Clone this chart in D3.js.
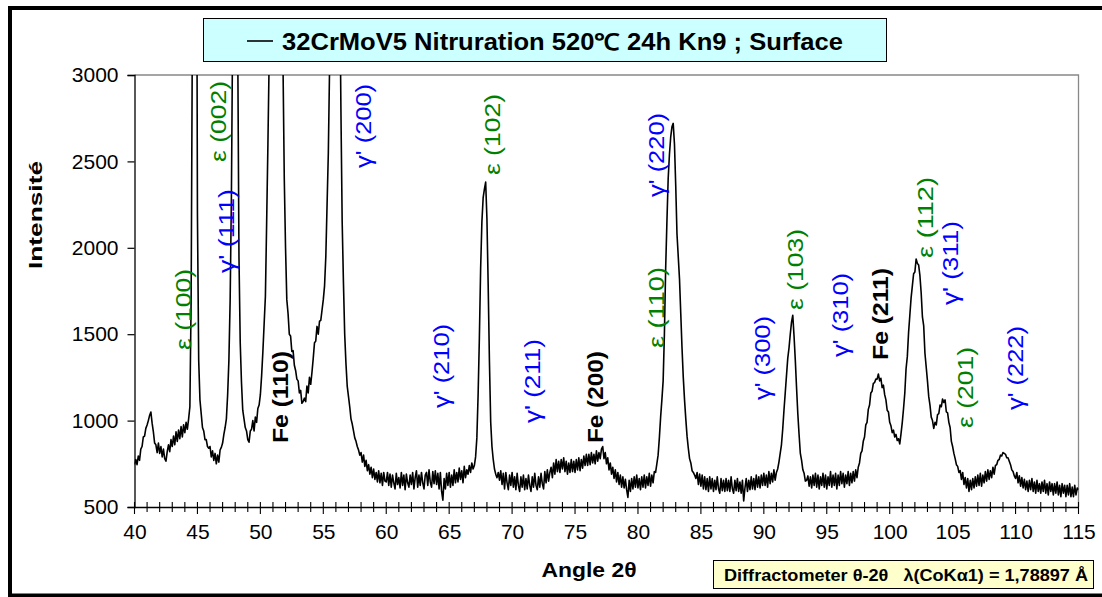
<!DOCTYPE html>
<html>
<head>
<meta charset="utf-8">
<script src="https://cdn.jsdelivr.net/npm/d3@7"></script>
<style>
  html, body { margin: 0; padding: 0; background: #fff; }
  svg { display: block; font-family: "Liberation Sans", Arial, sans-serif; }
</style>
</head>
<body>
<svg id="chart" width="1102" height="597"></svg>
<script>
// ---------------- DATA ----------------
const titleText = "32CrMoV5 Nitruration 520\u2103 24h Kn9 ; Surface";
const xAxisTitle = "Angle 2\u03B8";
const yAxisTitle = "Intensité";
const noteText = "Diffractometer \u03B8-2\u03B8\u00A0\u00A0\u00A0\u03BB(CoK\u03B11) = 1,78897 \u00C5";
const xTicks = [40, 45, 50, 55, 60, 65, 70, 75, 80, 85, 90, 95, 100, 105, 110, 115];
const yTicks = [500, 1000, 1500, 2000, 2500, 3000];
const angleStart = 40;      // first 2θ of the scan
const angleStep = 0.1;      // 2θ step between intensities

// intensity, one row per degree (2θ = row.0 … row.9)
const intensity = [
/*40*/ 745, 775, 745, 795, 770, 835, 850, 905, 910, 955,
/*41*/ 975, 1000, 1030, 1050, 985, 935, 870, 860, 815, 870,
/*42*/ 810, 850, 790, 835, 780, 765, 820, 860, 820, 890,
/*43*/ 850, 910, 860, 935, 880, 945, 895, 965, 905, 975,
/*44*/ 930, 990, 950, 1010, 1080, 1700, 3300, 6000, 7000, 5000,
/*45*/ 2200, 1350, 1120, 1040, 960, 940, 890, 890, 850, 840,
/*46*/ 850, 790, 825, 770, 810, 750, 800, 760, 830, 845,
/*47*/ 870, 920, 960, 1010, 1150, 1350, 1700, 2300, 3300, 5000,
/*48*/ 6000, 5000, 3200, 1950, 1450, 1220, 1060, 1010, 960, 940,
/*49*/ 890, 875, 940, 950, 1000, 940, 1020, 990, 1070, 1090,
/*50*/ 1150, 1260, 1400, 1560, 1720, 2150, 2600, 3100, 3800, 4500,
/*51*/ 5200, 5800, 6000, 5700, 5000, 4300, 3700, 3300, 3050, 2400,
/*52*/ 2000, 1700, 1620, 1500, 1490, 1400, 1405, 1320, 1290, 1240,
/*53*/ 1230, 1160, 1175, 1100, 1110, 1130, 1110, 1200, 1160, 1250,
/*54*/ 1210, 1280, 1360, 1450, 1460, 1545, 1500, 1575, 1580, 1640,
/*55*/ 1700, 1780, 1950, 2250, 2550, 3050, 3700, 4500, 5200, 5600,
/*56*/ 5800, 5500, 4800, 3600, 2800, 2150, 1800, 1500, 1330, 1200,
/*57*/ 1140, 1080, 1010, 980, 940, 900, 880, 850, 830, 800,
/*58*/ 815, 760, 800, 735, 770, 710, 745, 690, 730, 670,
/*59*/ 720, 660, 700, 645, 710, 640, 695, 625, 700, 650,
/*60*/ 645, 700, 625, 690, 615, 685, 640, 605, 695, 630,
/*61*/ 670, 610, 700, 625, 685, 600, 690, 640, 615, 685,
/*62*/ 630, 700, 605, 670, 710, 615, 685, 625, 700, 640,
/*63*/ 605, 685, 700, 625, 715, 645, 615, 705, 635, 710,
/*64*/ 630, 695, 605, 700, 590, 540, 665, 605, 695, 625,
/*65*/ 700, 615, 685, 625, 715, 640, 700, 645, 725, 660,
/*66*/ 710, 640, 735, 670, 715, 690, 740, 700, 755, 720,
/*67*/ 740, 790, 900, 1150, 1480, 1880, 2150, 2290, 2340, 2380,
/*68*/ 2170, 1780, 1340, 990, 850, 775, 720, 690, 670, 700,
/*69*/ 655, 710, 630, 695, 605, 700, 640, 600, 685, 625,
/*70*/ 700, 615, 675, 600, 695, 625, 590, 675, 615, 685,
/*71*/ 600, 665, 605, 685, 625, 590, 675, 615, 695, 625,
/*72*/ 600, 675, 615, 695, 635, 605, 705, 640, 715, 650,
/*73*/ 700, 730, 670, 755, 690, 775, 705, 765, 700, 775,
/*74*/ 720, 785, 705, 765, 690, 755, 700, 775, 705, 765,
/*75*/ 700, 775, 715, 785, 710, 775, 725, 795, 740, 805,
/*76*/ 740, 805, 745, 815, 755, 805, 750, 825, 765, 815,
/*77*/ 780, 835, 850, 780, 815, 750, 785, 715, 755, 690,
/*78*/ 730, 665, 715, 645, 700, 630, 685, 615, 675, 610,
/*79*/ 660, 600, 555, 655, 590, 665, 605, 675, 615, 685,
/*80*/ 610, 665, 600, 675, 615, 685, 610, 675, 625, 695,
/*81*/ 620, 685, 640, 705, 700, 750, 800, 900, 1020, 1120,
/*82*/ 1230, 1500, 1880, 2150, 2400, 2540, 2640, 2700, 2720, 2600,
/*83*/ 2360, 2080, 1950, 1820, 1620, 1420, 1250, 1120, 1010, 910,
/*84*/ 840, 780, 755, 710, 700, 685, 665, 700, 630, 690,
/*85*/ 620, 685, 605, 675, 600, 665, 590, 675, 605, 665,
/*86*/ 590, 655, 600, 675, 605, 580, 665, 595, 655, 590,
/*87*/ 665, 595, 655, 590, 675, 605, 580, 655, 595, 665,
/*88*/ 590, 645, 580, 655, 535, 610, 665, 590, 655, 600,
/*89*/ 675, 605, 665, 600, 685, 615, 675, 610, 685, 625,
/*90*/ 695, 625, 685, 615, 705, 635, 695, 645, 715, 655,
/*91*/ 700, 720, 760, 810, 860, 950, 1060, 1160, 1260, 1360,
/*92*/ 1420, 1500, 1570, 1610, 1490, 1350, 1190, 1040, 920, 810,
/*93*/ 770, 715, 695, 650, 655, 680, 620, 675, 610, 685,
/*94*/ 625, 695, 615, 685, 605, 675, 625, 695, 615, 685,
/*95*/ 605, 675, 625, 705, 615, 685, 625, 695, 605, 685,
/*96*/ 625, 705, 635, 695, 615, 685, 635, 705, 625, 695,
/*97*/ 640, 705, 650, 715, 670, 730, 755, 810, 825, 880,
/*98*/ 905, 975, 990, 1065, 1090, 1160, 1170, 1215, 1220, 1240,
/*99*/ 1240, 1270, 1230, 1245, 1190, 1205, 1150, 1120, 1060, 1050,
/*100*/ 990, 970, 930, 945, 905, 920, 885, 895, 865, 925,
/*101*/ 990, 1070, 1160, 1300, 1370, 1510, 1610, 1710, 1780, 1850,
/*102*/ 1860, 1935, 1910, 1900, 1840, 1740, 1600, 1550, 1390, 1310,
/*103*/ 1230, 1140, 1090, 1020, 1000, 955, 990, 975, 1035, 1040,
/*104*/ 1090, 1080, 1125, 1105, 1120, 1050, 1045, 990, 960, 880,
/*105*/ 850, 810, 780, 745, 735, 700, 710, 660, 700, 630,
/*106*/ 670, 610, 665, 590, 655, 600, 665, 610, 675, 620,
/*107*/ 685, 625, 695, 620, 685, 640, 705, 650, 715, 660,
/*108*/ 710, 670, 730, 690, 740, 745, 770, 775, 800, 795,
/*109*/ 815, 810, 805, 785, 785, 765, 745, 715, 705, 680,
/*110*/ 665, 700, 640, 680, 620, 670, 610, 660, 600, 650,
/*111*/ 590, 655, 600, 665, 590, 645, 580, 655, 590, 635,
/*112*/ 580, 645, 590, 655, 580, 635, 570, 645, 590, 635,
/*113*/ 570, 635, 580, 645, 570, 625, 560, 635, 580, 625,
/*114*/ 560, 625, 570, 635, 560, 615, 560, 625, 570, 610,
/*115*/ 600
];

// peak annotations: text, 2θ anchor, intensity anchor (bottom of rotated text), phase
const peakLabels = ["\u03B5 (100)", "\u03B5 (002)", "\u03B3' (111)", "Fe (110)", "\u03B3' (200)",
  "\u03B3' (210)", "\u03B5 (102)", "\u03B3' (211)", "Fe (200)", "\u03B5 (110)", "\u03B3' (220)",
  "\u03B3' (300)", "\u03B5 (103)", "\u03B3' (310)", "Fe (211)", "\u03B5 (112)", "\u03B3' (311)",
  "\u03B5 (201)", "\u03B3' (222)"];
const peakAngles = [43.85, 46.63, 47.27, 51.56, 58.16, 64.35, 68.40, 71.58, 76.59, 81.43, 81.43,
  89.85, 92.48, 96.05, 99.23, 102.81, 104.80, 105.99, 109.96];
const peakIntensities = [1409, 2497, 1854, 870, 2462, 1073, 2421, 986, 870, 1420, 2294,
  1119, 1640, 1368, 1351, 1941, 1669, 957, 1061];
const peakPhases = ["eps", "eps", "gam", "fe", "gam", "gam", "eps", "gam", "fe", "eps", "gam",
  "gam", "eps", "gam", "fe", "eps", "gam", "eps", "gam"];

// ---------------- DRAW ----------------
const svg = d3.select("#chart");
const W = 1102, H = 597;
const plot = { left: 134.5, right: 1078.5, top: 75, bottom: 507 };

svg.append("rect").attr("width", W).attr("height", H).attr("fill", "#fff");
// outer frame
svg.append("rect").attr("x", 10).attr("y", 8).attr("width", 1110).attr("height", 587.5)
  .attr("fill", "none").attr("stroke", "#000").attr("stroke-width", 4);

const x = d3.scaleLinear().domain([40, 115]).range([plot.left, plot.right]);
const y = d3.scaleLinear().domain([500, 3000]).range([plot.bottom, plot.top]);

// plot border (top/right grey)
svg.append("path")
  .attr("d", `M${plot.left},${plot.top}H${plot.right}V${plot.bottom}`)
  .attr("fill", "none").attr("stroke", "#888").attr("stroke-width", 1.3);

// clip
svg.append("clipPath").attr("id", "clip").append("rect")
  .attr("x", plot.left).attr("y", plot.top)
  .attr("width", plot.right - plot.left).attr("height", plot.bottom - plot.top);

const pts = intensity.map((v, i) => [angleStart + i * angleStep, v]);
const line = d3.line().x(d => x(d[0])).y(d => y(d[1]));
svg.append("path").datum(pts).attr("clip-path", "url(#clip)")
  .attr("d", line).attr("fill", "none").attr("stroke", "#000")
  .attr("stroke-width", 1.6).attr("stroke-linejoin", "round");

// Y axis
const yAxis = d3.axisLeft(y).tickValues(yTicks).tickSize(7).tickPadding(9).tickFormat(d3.format("d"));
const gy = svg.append("g").attr("transform", `translate(${plot.left},0)`).call(yAxis);
gy.select(".domain").attr("stroke", "#000").attr("stroke-width", 1.3);
gy.selectAll(".tick line").attr("stroke", "#000").attr("stroke-width", 1.2);
gy.selectAll("text").attr("font-size", 21).attr("fill", "#000")
  .attr("font-family", "Liberation Sans, Arial, sans-serif");

// X axis: minor ticks crossing
const minorTicks = d3.range(40, 116, 1);
svg.append("g").selectAll("line").data(minorTicks).join("line")
  .attr("x1", d => x(d)).attr("x2", d => x(d))
  .attr("y1", plot.bottom - 5).attr("y2", d => plot.bottom + (d % 5 === 0 ? 7 : 5))
  .attr("stroke", "#000").attr("stroke-width", 1.1);
const xAxis = d3.axisBottom(x).tickValues(xTicks).tickSize(0).tickPadding(17);
const gx = svg.append("g").attr("transform", `translate(0,${plot.bottom})`).call(xAxis);
gx.select(".domain").attr("stroke", "#000").attr("stroke-width", 1.3);
gx.selectAll("text").attr("font-size", 21).attr("fill", "#000")
  .attr("font-family", "Liberation Sans, Arial, sans-serif");

// axis titles
svg.append("text").attr("x", 589).attr("y", 577).attr("text-anchor", "middle")
  .attr("font-size", 20).attr("font-weight", "bold").attr("textLength", 95)
  .attr("lengthAdjust", "spacingAndGlyphs").text(xAxisTitle);
svg.append("text").attr("transform", "translate(42,215) rotate(-90)")
  .attr("text-anchor", "middle").attr("font-size", 19).attr("font-weight", "bold")
  .attr("textLength", 108).attr("lengthAdjust", "spacingAndGlyphs").text(yAxisTitle);

// title box
svg.append("rect").attr("x", 203.5).attr("y", 18.5).attr("width", 683).attr("height", 43)
  .attr("fill", "#CCFFFF").attr("stroke", "#000").attr("stroke-width", 1);
svg.append("line").attr("x1", 247).attr("x2", 273).attr("y1", 41).attr("y2", 41)
  .attr("stroke", "#000").attr("stroke-width", 1.6);
svg.append("text").attr("x", 282).attr("y", 50).attr("font-size", 23).attr("font-weight", "bold")
  .attr("textLength", 561).attr("lengthAdjust", "spacingAndGlyphs").text(titleText);

// note box
svg.append("rect").attr("x", 713.5).attr("y", 560.5).attr("width", 380).attr("height", 28)
  .attr("fill", "#FFFFCC").attr("stroke", "#000").attr("stroke-width", 1);
svg.append("text").attr("x", 724).attr("y", 581).attr("font-size", 16).attr("font-weight", "bold")
  .attr("textLength", 364).attr("lengthAdjust", "spacingAndGlyphs").text(noteText);

// peak labels
const phaseColor = { eps: "#008000", gam: "#0000FF", fe: "#000" };
const phaseLen = { eps: 81, gam: 84, fe: 92 };
svg.append("g").selectAll("text").data(peakLabels.map((t, i) => ({
    t, a: peakAngles[i], v: peakIntensities[i], p: peakPhases[i] })))
  .join("text")
  .attr("transform", d => `translate(${x(d.a)},${y(d.v)}) rotate(-90)`)
  .attr("dy", "0.36em")
  .attr("font-size", 22)
  .attr("font-weight", d => d.p === "fe" ? "bold" : "normal")
  .attr("fill", d => phaseColor[d.p])
  .attr("textLength", d => phaseLen[d.p])
  .attr("lengthAdjust", "spacingAndGlyphs")
  .text(d => d.t);
</script>
</body>
</html>
